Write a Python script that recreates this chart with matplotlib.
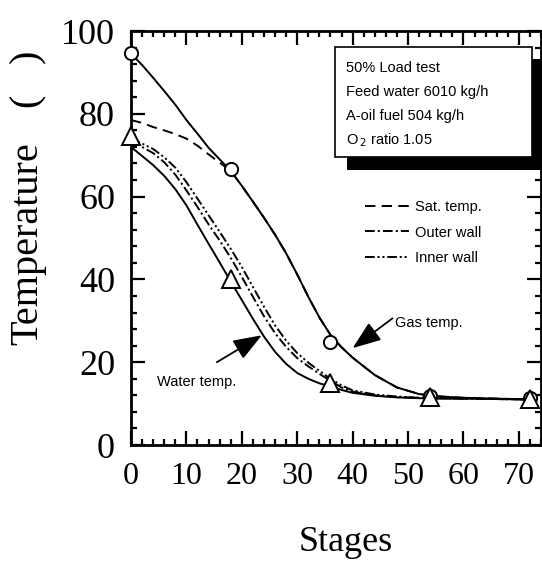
import numpy as np
import matplotlib
matplotlib.use('Agg')
import matplotlib.pyplot as plt
from matplotlib.patches import Rectangle
from matplotlib.lines import Line2D

plt.rcParams['lines.scale_dashes'] = False

# stages along the curves
st = [0, 2, 4, 6, 8, 10, 12, 14, 16, 18, 20, 22, 24, 26, 28, 30, 32, 34, 36,
      38, 40, 44, 48, 52, 56, 60, 66, 72]
gas = [94.5, 91.8, 88.7, 85.5, 82.2, 78.5, 75.2, 71.8, 69.0, 66.2, 62.6, 58.8,
       54.9, 50.8, 46.3, 41.2, 35.8, 30.8, 26.6, 23.6, 21.1, 16.9, 13.9, 12.3,
       11.7, 11.4, 11.2, 11.0]
sat = [78.5, 77.8, 76.8, 76.0, 75.1, 74.0, 72.3, 70.2, 68.2, 66.2, 62.6, 58.8,
       54.9, 50.8, 46.3, 41.2, 35.8, 30.8, 26.6, 23.6, 21.1, 16.9, 13.9, 12.3,
       11.7, 11.4, 11.2, 11.0]
water = [72.0, 69.8, 67.6, 65.0, 61.8, 57.9, 53.2, 48.6, 44.1, 39.5, 35.0, 30.5,
         26.2, 22.5, 19.6, 17.4, 16.0, 14.9, 14.1, 13.3, 12.6, 11.9, 11.5, 11.3,
         11.2, 11.2, 11.1, 11.0]
outer = [73.5, 72.0, 70.5, 68.3, 65.3, 61.5, 57.5, 53.3, 49.4, 45.2, 40.6, 35.8,
         31.1, 27.0, 23.7, 21.0, 19.0, 17.2, 15.5, 13.9, 12.9, 12.0, 11.6, 11.4,
         11.3, 11.2, 11.1, 11.0]
inner = [74.0, 72.8, 71.5, 69.5, 67.0, 63.5, 59.5, 55.5, 51.5, 47.4, 43.0, 38.2,
         33.4, 28.9, 25.2, 22.2, 19.9, 17.9, 16.0, 14.4, 13.2, 12.2, 11.7, 11.4,
         11.3, 11.2, 11.1, 11.0]

# measured points
meas_st = [0, 18, 36, 54, 72]
meas_gas = [94.7, 66.7, 24.9, 11.8, 11.3]
meas_water = [74.7, 40.0, 15.0, 11.6, 11.0]

info = ['50% Load test', 'Feed water 6010 kg/h', 'A-oil fuel 504 kg/h',
        'O$_{\\,2}$ ratio 1.05']

fig = plt.figure(figsize=(5.42, 5.61), dpi=100)
ax = fig.add_axes([131/542, 116/561, 410/542, 414/561])

lw = 1.4
ax.plot(st, gas, color='k', lw=lw)
ax.plot(st, water, color='k', lw=lw)
ax.plot(st, sat, color='k', lw=lw, linestyle=(0, (7.5, 4.5)))
ax.plot(st, outer, color='k', lw=lw, linestyle=(0, (7, 2.2, 1.5, 2.2)))
ax.plot(st, inner, color='k', lw=lw, linestyle=(0, (7, 2, 1.5, 2, 1.5, 2)))

ax.plot(meas_st, meas_gas, 'o', ms=9.5, mfc='white', mec='k', mew=1.4, clip_on=False, zorder=5)
ax.plot(meas_st, meas_water, '^', ms=13, mfc='white', mec='k', mew=1.4, clip_on=False, zorder=6)

ax.set_xlim(0, 74)
ax.set_ylim(0, 100)
ax.set_xticks(np.arange(0, 71, 10))
ax.set_xticks(np.arange(0, 75, 2), minor=True)
ax.set_yticks(np.arange(0, 101, 20))
ax.set_yticks(np.arange(0, 101, 4), minor=True)
ax.tick_params(which='both', direction='in', top=True, right=True, width=1.6)
ax.tick_params(which='major', length=10)
ax.tick_params(which='minor', length=4.5)
ax.tick_params(axis='x', which='major', pad=12)
ax.tick_params(axis='y', which='major', pad=11.5)
for s in ax.spines.values():
    s.set_linewidth(2)

serif = 'Liberation Serif'
for lab in ax.get_xticklabels():
    lab.set_fontfamily(serif)
    lab.set_fontsize(23)
for lab in ax.get_yticklabels():
    lab.set_fontfamily(serif)
    lab.set_fontsize(26)

fig.text(346/542, 10/561, 'Stages', fontfamily=serif, fontsize=26,
         ha='center', va='baseline')
# y label: word and the (empty) unit brackets
fig.text(37/542, 1 - 244/561, 'Temperature', fontfamily=serif, fontsize=29,
         rotation=90, rotation_mode='anchor', ha='center', va='baseline')
fig.text(37/542, 1 - 100/561, '(', fontfamily=serif, fontsize=29,
         rotation=90, rotation_mode='anchor', ha='center', va='baseline')
fig.text(37/542, 1 - 56/561, ')', fontfamily=serif, fontsize=29,
         rotation=90, rotation_mode='anchor', ha='center', va='baseline')

# info box with shadow
ax.add_patch(Rectangle((38.9, 66.5), 36, 26.8, facecolor='k', edgecolor='none',
                       clip_on=False, zorder=7))
ax.add_patch(Rectangle((36.8, 69.6), 35.5, 26.5, facecolor='white', edgecolor='k',
                       lw=1.2, clip_on=False, zorder=8))
for i, t in enumerate(info):
    ax.text(38.8, 91.0 - i * 5.75, t, fontfamily='Liberation Sans', fontsize=10.5,
            va='center', ha='left', zorder=9)

handles = [Line2D([], [], color='k', lw=lw, linestyle=(0, (7.5, 4.5))),
           Line2D([], [], color='k', lw=lw, linestyle=(0, (7, 2.2, 1.5, 2.2))),
           Line2D([], [], color='k', lw=lw, linestyle=(0, (7, 2, 1.5, 2, 1.5, 2)))]
ax.legend(handles, ['Sat. temp.', 'Outer wall', 'Inner wall'], loc='upper left',
          bbox_to_anchor=(0.571, 0.592), frameon=False, borderpad=0, borderaxespad=0,
          handlelength=3.0, handletextpad=0.45, labelspacing=0.8,
          prop={'family': 'Liberation Sans', 'size': 10.5})

arrow = dict(arrowstyle='-|>,head_length=0.8,head_width=0.3', color='k', lw=1.3,
             mutation_scale=22, shrinkA=0, shrinkB=0)
ax.annotate('', xy=(40, 23.4), xytext=(47.2, 30.6), arrowprops=arrow)
ax.text(47.6, 29.4, 'Gas temp.', fontfamily='Liberation Sans', fontsize=10.5,
        va='center', ha='left')
ax.annotate('', xy=(23.6, 26.5), xytext=(15.5, 20.0), arrowprops=arrow)
ax.text(4.7, 15.2, 'Water temp.', fontfamily='Liberation Sans', fontsize=10.5,
        va='center', ha='left')

fig.savefig('out.png', dpi=100)
